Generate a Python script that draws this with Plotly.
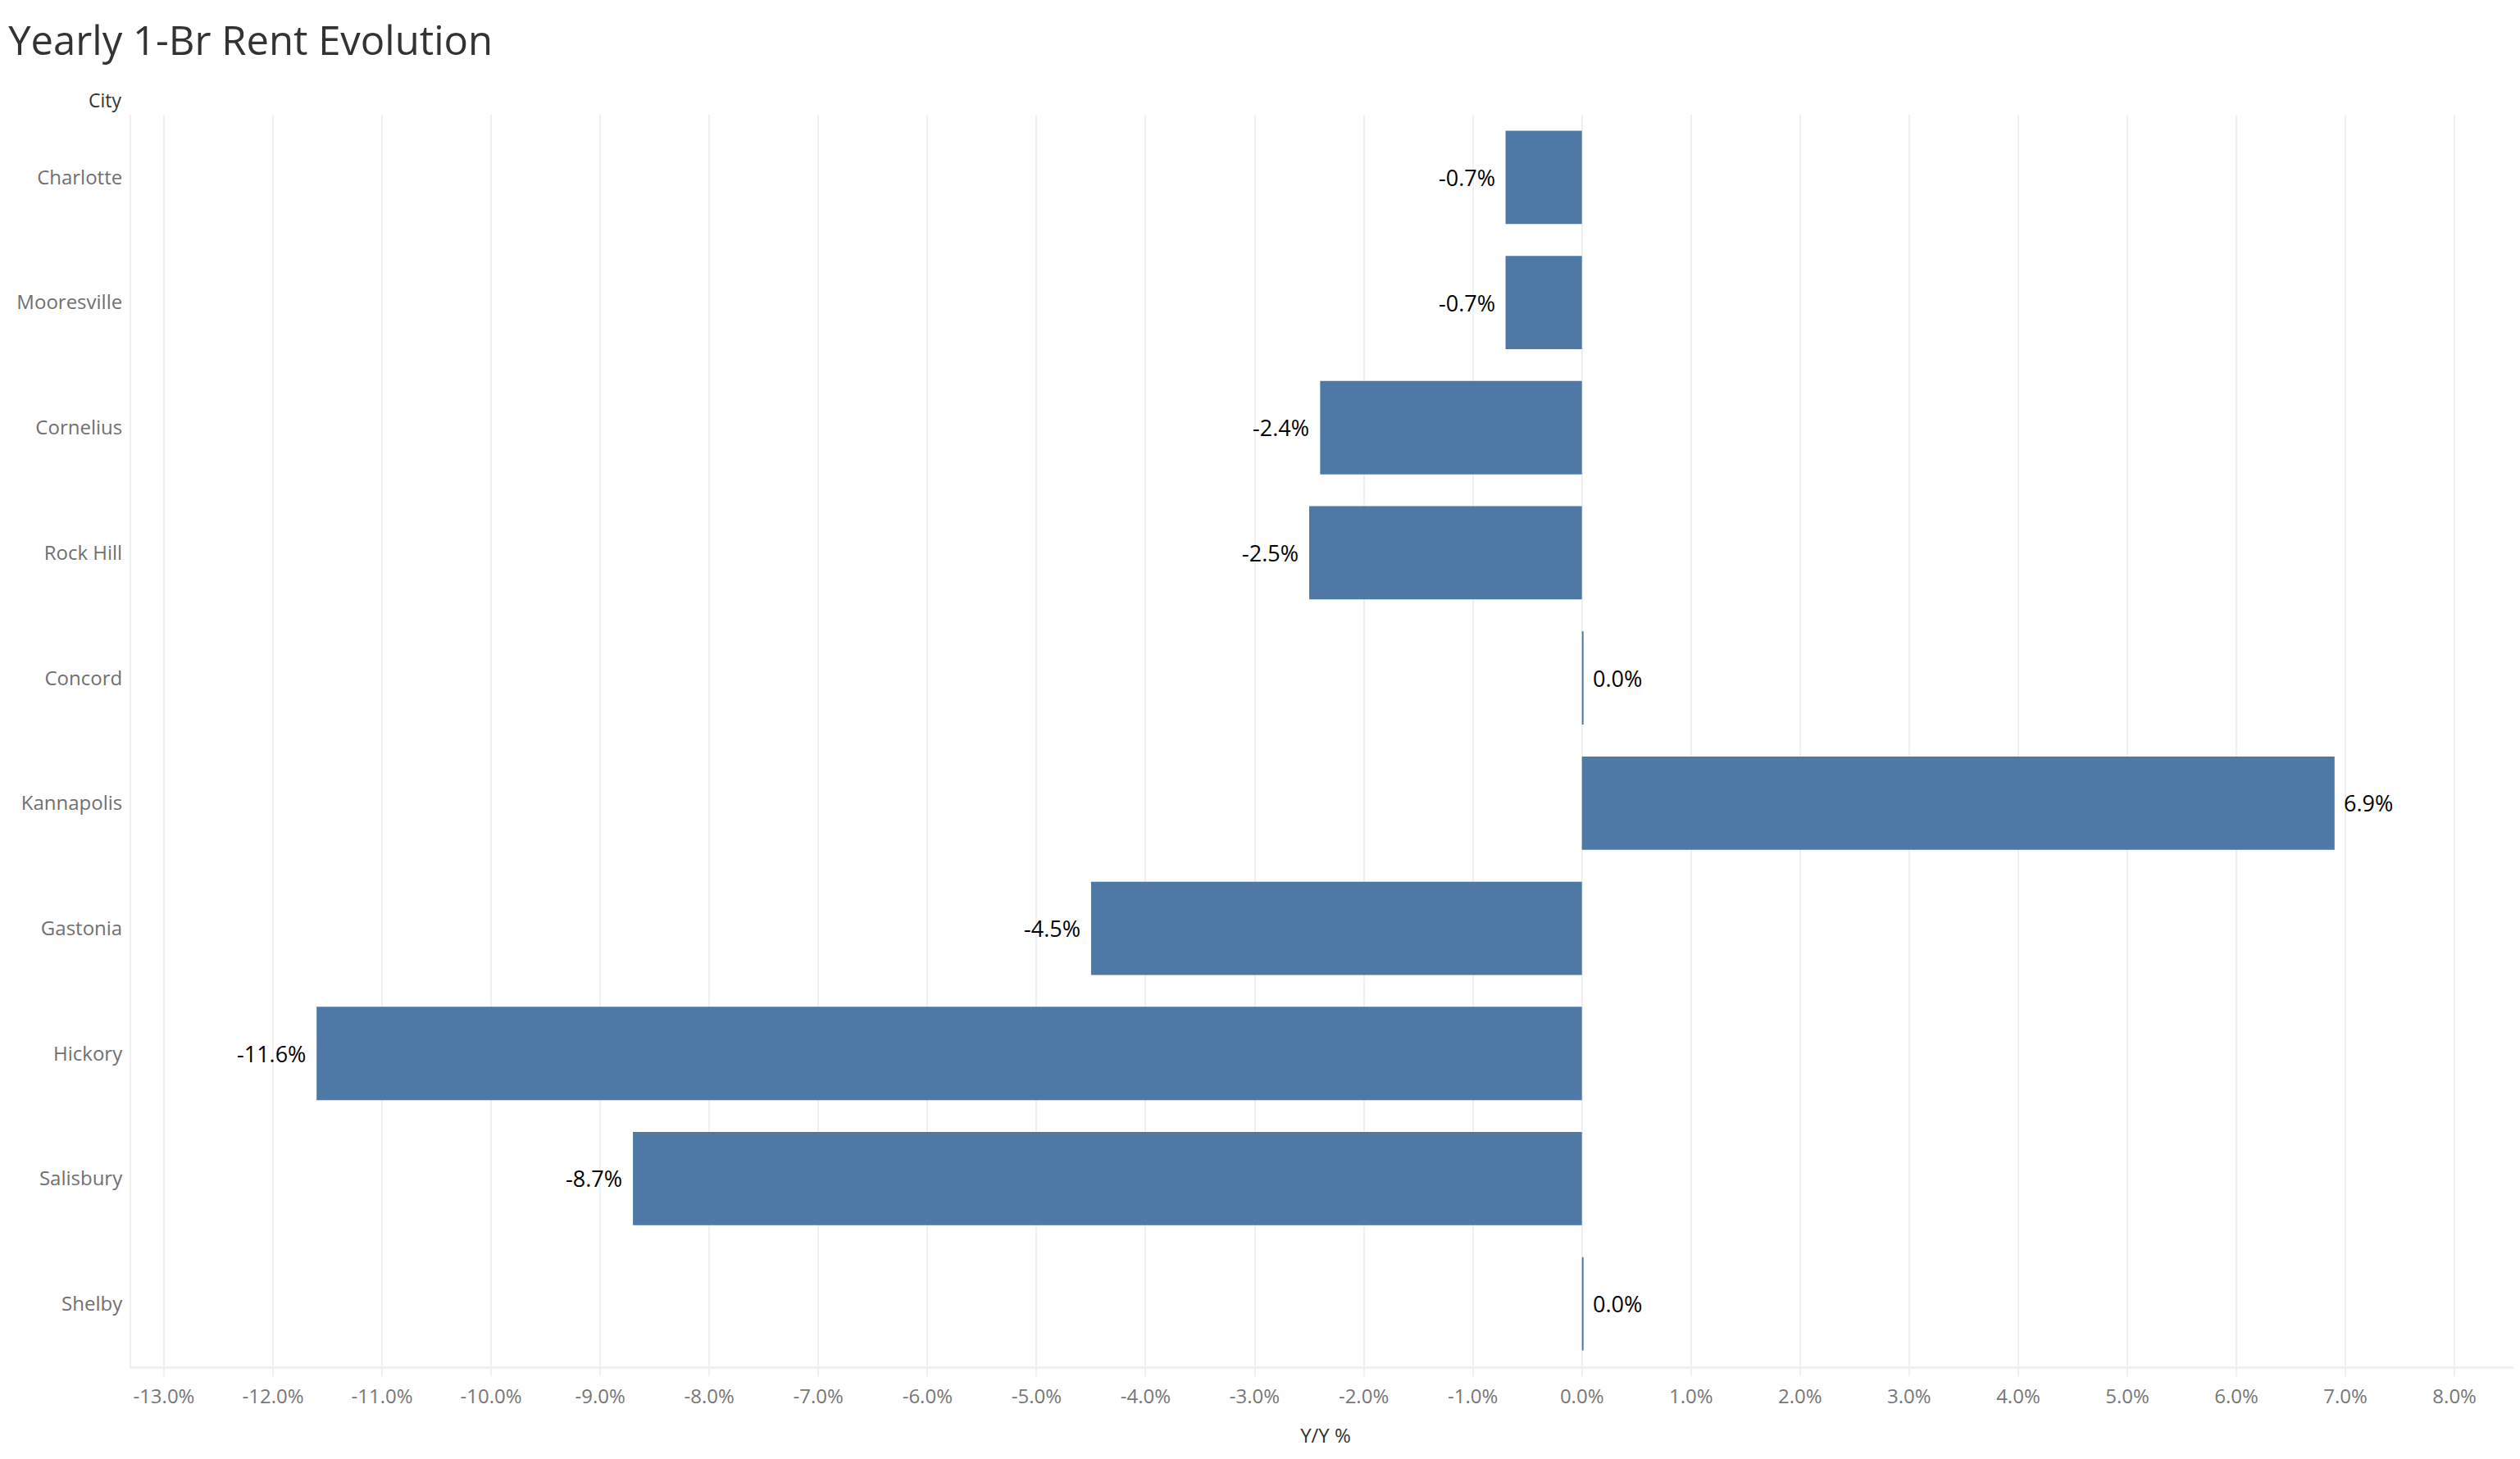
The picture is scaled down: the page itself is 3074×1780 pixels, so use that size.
import plotly.graph_objects as go

# data
cities = ["Charlotte", "Mooresville", "Cornelius", "Rock Hill", "Concord",
          "Kannapolis", "Gastonia", "Hickory", "Salisbury", "Shelby"]
yoy_pct = [-0.7, -0.7, -2.4, -2.5, 0.015, 6.9, -4.5, -11.6, -8.7, 0.015]
labels = ["-0.7%", "-0.7%", "-2.4%", "-2.5%", "0.0%",
          "6.9%", "-4.5%", "-11.6%", "-8.7%", "0.0%"]
tick_vals = list(range(-13, 9))
tick_text = [f"{v:.1f}%" for v in tick_vals]

BLUE = "#4e79a7"
GRID = "#f0f0f0"
FONT = "Open Sans"

# page body has an 8px margin, so the figure is a bit smaller than the window
W, H = 3066, 1772

fig = go.Figure()
fig.add_trace(go.Bar(
    x=yoy_pct, y=cities, orientation="h",
    marker=dict(color=BLUE, line=dict(width=0)),
    width=0.745, hoverinfo="skip",
))

# bar end labels
for v, c, t in zip(yoy_pct, cities, labels):
    fig.add_annotation(
        x=v, y=c, text=t, showarrow=False,
        xanchor="left" if v >= 0 else "right",
        xshift=9 if v >= 0 else -11,
        font=dict(family=FONT, size=27, color="#000000"),
    )

# dashed zero reference line
fig.add_vline(x=0, line=dict(color="#c4c4c4", width=1.5, dash="4px,4px"), layer="below")

# "City" header above the y labels
fig.add_annotation(
    x=0, y=1, xref="paper", yref="paper", text="City", showarrow=False,
    xanchor="right", yanchor="middle", xshift=-10, yshift=18,
    font=dict(family=FONT, size=23, color="#333333"),
)

fig.update_layout(
    width=W, height=H,
    paper_bgcolor="white", plot_bgcolor="white",
    margin=dict(l=152, r=0, t=132, b=113),
    showlegend=False,
    font=dict(family=FONT),
    title=dict(
        text="Yearly 1-Br Rent Evolution",
        x=0.0007, xanchor="left", xref="container",
        y=1 - 42 / H, yanchor="middle", yref="container",
        font=dict(family=FONT, size=49, color="#333333"),
    ),
    xaxis=dict(
        range=[-13.3, 8.6],
        tickmode="array", tickvals=tick_vals, ticktext=tick_text,
        showgrid=True, gridcolor=GRID, gridwidth=2,
        zeroline=False,
        showline=True, linecolor=GRID, linewidth=3,
        ticks="outside", ticklen=9, tickwidth=2, tickcolor=GRID,
        ticklabelstandoff=4,
        tickfont=dict(family=FONT, size=24, color="#777777"),
        title=dict(text="Y/Y %", standoff=26,
                   font=dict(family=FONT, size=24, color="#333333")),
    ),
    yaxis=dict(
        categoryorder="array", categoryarray=cities,
        range=[9.5, -0.5],
        showgrid=False, zeroline=False,
        showline=True, linecolor=GRID, linewidth=2,
        ticks="", ticklabelstandoff=4,
        tickfont=dict(family=FONT, size=24, color="#707070"),
    ),
)

fig.write_html("out.html")
